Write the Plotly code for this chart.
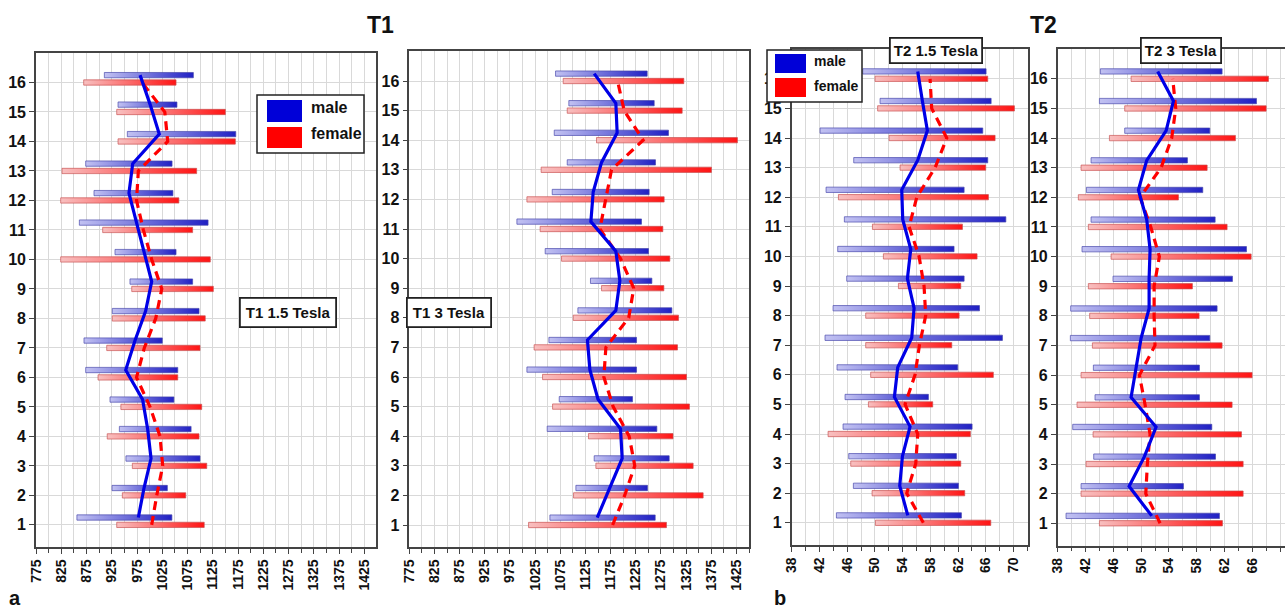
import plotly.graph_objects as go

rows = list(range(1, 17))

# ---- T1 1.5 Tesla (panel a, left) ----
t1_15_male_low = [856, 925.5, 953, 940, 921.5, 873.4, 870, 926, 961, 931.4, 860.8, 889.8, 873.4, 955.8, 937.4, 910.3]
t1_15_male_high = [1044, 1035, 1099.7, 1082, 1048, 1055.6, 1025, 1097.7, 1085, 1052.2, 1115.6, 1046, 1044.3, 1170.4, 1054, 1086.5]
t1_15_fem_low = [934.8, 945.9, 965.7, 916, 943, 897.8, 915, 926, 964.5, 823.9, 907, 823.9, 826.5, 937.4, 934.8, 869.4]
t1_15_fem_high = [1108, 1071.4, 1113, 1097.7, 1103, 1055.6, 1099.7, 1110, 1126, 1120, 1085, 1057.8, 1093, 1169.6, 1149.8, 1052.2]
t1_15_male_mean = [977.6, 988.8, 1002.7, 996, 986, 952.6, 971, 992, 1004, 988.8, 974, 959, 966.4, 1019, 1001, 981]
t1_15_fem_mean = [1004, 1014, 1025.8, 1020.5, 1000.7, 974, 989.4, 1012, 1024, 1004, 987.5, 974, 977.6, 1035.7, 1030, 985]

# ---- T1 3 Tesla ----
t1_3_male_low = [1054.4, 1106, 1142.4, 1049, 1072.9, 1008.7, 1052.4, 1110, 1135, 1045, 988.8, 1059, 1088.8, 1063, 1092, 1065.6]
t1_3_male_high = [1263.6, 1248.3, 1291.4, 1266.9, 1218.5, 1226.5, 1226.5, 1296.7, 1257, 1250.3, 1236.4, 1251.6, 1264.2, 1290, 1261.6, 1247.7]
t1_3_fem_low = [1012, 1101.4, 1145.7, 1131, 1059.7, 1039.8, 1023, 1100.7, 1157, 1077.5, 1035, 1008.7, 1037, 1147, 1088.8, 1080.8]
t1_3_fem_high = [1286, 1358.9, 1339, 1299, 1331.7, 1325.8, 1307.9, 1310, 1280.8, 1292.7, 1278.8, 1281.4, 1375.4, 1427, 1317.2, 1320.5]
t1_3_male_mean = [1148.4, 1173.5, 1198, 1194.7, 1150, 1133.8, 1129, 1185.4, 1193.4, 1185.4, 1135.8, 1140.4, 1157, 1188, 1185.4, 1142.4]
t1_3_fem_mean = [1179, 1203, 1223, 1211.9, 1180, 1161.6, 1165.6, 1211, 1221, 1194.7, 1153.7, 1165.6, 1176.8, 1239.7, 1202, 1188.8]

# ---- T2 1.5 Tesla (panel b, left) ----
t2_15_male_low = [44.45, 46.9, 46.23, 45.41, 45.7, 44.54, 42.81, 43.97, 45.94, 44.64, 45.6, 42.96, 46.95, 42.09, 50.75, 48.25]
t2_15_male_high = [62.49, 62.06, 61.77, 64.03, 57.73, 61.96, 68.41, 65.1, 62.88, 61.43, 68.9, 62.88, 66.29, 65.57, 66.78, 66.05]
t2_15_fem_low = [50.08, 49.6, 46.52, 43.25, 49.07, 49.4, 48.68, 48.68, 53.4, 51.23, 49.65, 44.74, 53.64, 52.05, 50.4, 50.03]
t2_15_fem_high = [66.73, 62.97, 62.4, 63.79, 58.35, 67.1, 61.1, 62.16, 62.4, 64.75, 62.64, 66.39, 66.0, 67.35, 70.14, 66.29]
t2_15_male_mean = [54.75, 53.59, 53.98, 55.08, 52.82, 53.3, 55.32, 55.66, 54.7, 55.18, 54.02, 53.88, 56.19, 57.58, 56.86, 56.19]
t2_15_fem_mean = [57.0, 54.6, 55.9, 56.19, 54.36, 55.8, 56.43, 57.34, 57.1, 56.38, 54.94, 56.05, 58.7, 60.38, 58.2, 57.97]

# ---- T2 3 Tesla ----
t2_3_male_low = [39.2, 41.36, 43.18, 40.16, 43.37, 43.13, 39.82, 39.87, 45.96, 41.5, 42.8, 42.13, 42.8, 47.64, 44.0, 44.14]
t2_3_male_high = [61.27, 56.09, 60.7, 60.17, 58.39, 58.39, 59.88, 60.93, 63.14, 65.16, 60.65, 58.87, 56.66, 59.88, 66.6, 61.65]
t2_3_fem_low = [44.0, 41.36, 42.08, 43.09, 40.78, 41.36, 42.99, 42.6, 42.41, 45.68, 42.41, 40.97, 41.36, 45.44, 47.64, 48.56]
t2_3_fem_high = [61.7, 64.68, 64.68, 64.44, 63.09, 65.97, 61.65, 58.34, 57.38, 65.83, 62.37, 55.37, 59.5, 63.57, 67.99, 68.32]
t2_3_male_mean = [51.53, 48.27, 50.47, 52.15, 48.56, 49.28, 50.0, 51.15, 51.15, 51.29, 50.81, 49.61, 50.81, 53.6, 54.65, 52.39]
t2_3_fem_mean = [52.73, 50.67, 50.9, 51.29, 50.57, 49.76, 52.0, 51.87, 51.87, 52.63, 51.39, 49.85, 52.87, 54.4, 54.98, 54.55]

panel_titles = ["T1 1.5 Tesla", "T1 3 Tesla", "T2 1.5 Tesla", "T2 3 Tesla"]
x_ticks_t1 = list(range(775, 1426, 50))
x_ticks_t2 = list(range(38, 71, 4))

W, H = 1285, 609
FONT = "Liberation Sans, Arial, sans-serif"


def pxx(x):
    return x / W


def pxy(y):
    return 1 - y / H


panels = [
    dict(ml=t1_15_male_low, mh=t1_15_male_high, fl=t1_15_fem_low, fh=t1_15_fem_high,
         mm=t1_15_male_mean, fm=t1_15_fem_mean, xd=(36, 376), yd=(53, 547),
         xr=(775, 1448), ticks=x_ticks_t1, dt=50, mdt=25),
    dict(ml=t1_3_male_low, mh=t1_3_male_high, fl=t1_3_fem_low, fh=t1_3_fem_high,
         mm=t1_3_male_mean, fm=t1_3_fem_mean, xd=(409.3, 749), yd=(51.4, 547.2),
         xr=(775, 1450), ticks=x_ticks_t1, dt=50, mdt=25),
    dict(ml=t2_15_male_low, mh=t2_15_male_high, fl=t2_15_fem_low, fh=t2_15_fem_high,
         mm=t2_15_male_mean, fm=t2_15_fem_mean, xd=(791.7, 1028), yd=(49.2, 545),
         xr=(38, 72.1), ticks=x_ticks_t2, dt=4, mdt=2),
    dict(ml=t2_3_male_low, mh=t2_3_male_high, fl=t2_3_fem_low, fh=t2_3_fem_high,
         mm=t2_3_male_mean, fm=t2_3_fem_mean, xd=(1057.7, 1285), yd=(49.2, 545.5),
         xr=(38, 70.7), ticks=x_ticks_t2, dt=4, mdt=2),
]

MALE_OFF = 0.25
HALF = 0.09
male_scale = [[0, "#c2c2f2"], [1, "#2020c4"]]
fem_scale = [[0, "#f8c0c0"], [1, "#ff1414"]]

fig = go.Figure()
layout = {}

for i, p in enumerate(panels):
    k = "" if i == 0 else str(i + 1)
    xa, ya = "x" + k, "y" + k
    for r, lo, hi in zip(rows, p["ml"], p["mh"]):
        yc = r + MALE_OFF
        fig.add_trace(go.Scatter(
            x=[lo, hi, hi, lo, lo], y=[yc - HALF, yc - HALF, yc + HALF, yc + HALF, yc - HALF],
            mode="lines", fill="toself",
            fillgradient=dict(type="horizontal", colorscale=male_scale),
            line=dict(color="rgba(70,70,170,0.85)", width=0.8),
            xaxis=xa, yaxis=ya, showlegend=False, hoverinfo="skip"))
    for r, lo, hi in zip(rows, p["fl"], p["fh"]):
        yc = r
        fig.add_trace(go.Scatter(
            x=[lo, hi, hi, lo, lo], y=[yc - HALF, yc - HALF, yc + HALF, yc + HALF, yc - HALF],
            mode="lines", fill="toself",
            fillgradient=dict(type="horizontal", colorscale=fem_scale),
            line=dict(color="rgba(200,80,80,0.85)", width=0.8),
            xaxis=xa, yaxis=ya, showlegend=False, hoverinfo="skip"))
    fig.add_trace(go.Scatter(
        x=p["fm"], y=rows, mode="lines",
        line=dict(color="#ff0000", width=3.2, dash="9px,6px"),
        xaxis=xa, yaxis=ya, showlegend=False))
    fig.add_trace(go.Scatter(
        x=p["mm"], y=[r + MALE_OFF for r in rows], mode="lines",
        line=dict(color="#0000e6", width=3.2),
        xaxis=xa, yaxis=ya, showlegend=False))

    grid = "#d9d9d9"
    layout["xaxis" + k] = dict(
        domain=[pxx(p["xd"][0]), pxx(p["xd"][1])], anchor=ya, range=list(p["xr"]),
        tickmode="array", tickvals=p["ticks"], ticktext=["<b>%d</b>" % t for t in p["ticks"]],
        tickangle=-90, tickfont=dict(family=FONT, size=14, color="#111"),
        ticks="outside", ticklen=5, tickcolor="#444", showgrid=True, gridcolor=grid, gridwidth=1,
        minor=dict(dtick=p["mdt"], tick0=p["ticks"][0], showgrid=True, gridcolor=grid,
                   ticks="outside", ticklen=4, tickcolor="#444"),
        showline=True, linecolor="#444", linewidth=1.6, mirror=True, zeroline=False,
        automargin=False, fixedrange=True)
    layout["yaxis" + k] = dict(
        domain=[pxy(p["yd"][1]), pxy(p["yd"][0])], anchor=xa, range=[0.25, 17],
        tickmode="array", tickvals=rows, ticktext=["<b>%d</b>" % r for r in rows],
        tickfont=dict(family=FONT, size=16, color="#111"),
        ticks="outside", ticklen=5, tickcolor="#444", showgrid=True, gridcolor=grid,
        showline=True, linecolor="#444", linewidth=1.6, mirror=True, zeroline=False,
        automargin=False, fixedrange=True)

shapes = []
annotations = []


def legend_box(x0, y0, x1, y1, sq_x0, sq_x1, b_y, r_y, tx, tm_y, tf_y, size):
    shapes.append(dict(type="rect", xref="paper", yref="paper", x0=pxx(x0), x1=pxx(x1),
                       y0=pxy(y1), y1=pxy(y0), line=dict(color="#222", width=1.5),
                       fillcolor="white", layer="above"))
    shapes.append(dict(type="rect", xref="paper", yref="paper", x0=pxx(sq_x0), x1=pxx(sq_x1),
                       y0=pxy(b_y[1]), y1=pxy(b_y[0]), line=dict(width=0),
                       fillcolor="#0000d8", layer="above"))
    shapes.append(dict(type="rect", xref="paper", yref="paper", x0=pxx(sq_x0), x1=pxx(sq_x1),
                       y0=pxy(r_y[1]), y1=pxy(r_y[0]), line=dict(width=0),
                       fillcolor="#ff0000", layer="above"))
    for txt, yy in (("male", tm_y), ("female", tf_y)):
        annotations.append(dict(text="<b>%s</b>" % txt, x=pxx(tx), y=pxy(yy), xref="paper",
                                yref="paper", xanchor="left", yanchor="middle", showarrow=False,
                                font=dict(family=FONT, size=size, color="#111")))


legend_box(257, 95, 364, 153, 267, 302, (100, 122), (127, 148), 309, 107, 133, 16)
legend_box(767, 50, 862, 102, 775, 806, (54, 73), (78, 97), 812, 61, 86, 14)


def box_label(text, cx, cy, size=15, pad=4):
    annotations.append(dict(text="<b>%s</b>" % text, x=pxx(cx), y=pxy(cy), xref="paper",
                            yref="paper", xanchor="center", yanchor="middle", showarrow=False,
                            bgcolor="white", bordercolor="#222", borderwidth=1.8, borderpad=pad,
                            font=dict(family=FONT, size=size, color="#111")))


box_label(panel_titles[0], 288, 312, 15, 5)
box_label(panel_titles[1], 449, 312, 15, 5)
box_label(panel_titles[2], 936, 50.5, 15, 3)
box_label(panel_titles[3], 1180.5, 50.5, 15, 3)

for txt, cx, cy, s in (("T1", 380, 25, 23), ("T2", 1043, 25, 23), ("a", 15, 598, 20), ("b", 780, 598, 20)):
    annotations.append(dict(text="<b>%s</b>" % txt, x=pxx(cx), y=pxy(cy), xref="paper",
                            yref="paper", xanchor="center", yanchor="middle", showarrow=False,
                            font=dict(family=FONT, size=s, color="#111")))

layout.update(dict(width=W, height=H, margin=dict(l=0, r=0, t=0, b=0, autoexpand=False),
                   paper_bgcolor="white", plot_bgcolor="white", showlegend=False,
                   shapes=shapes, annotations=annotations))
fig.update_layout(**layout)
fig.write_html("out.html", config={"displayModeBar": False},
               post_script="document.body.style.margin='0';document.body.style.overflow='hidden';")
